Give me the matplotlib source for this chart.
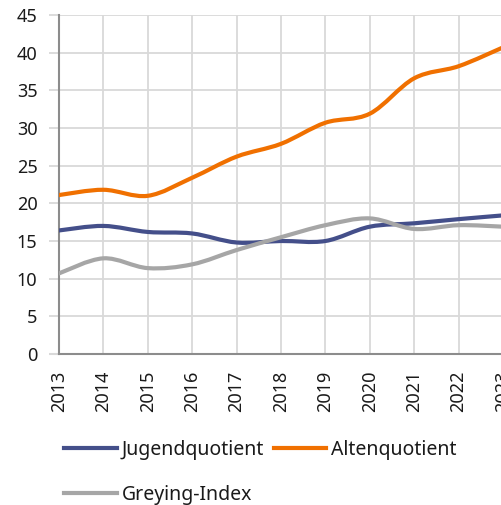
import matplotlib
matplotlib.use("Agg")
import matplotlib.pyplot as plt
from matplotlib.path import Path
from matplotlib.patches import PathPatch
from matplotlib.lines import Line2D
import numpy as np

years = [2013, 2014, 2015, 2016, 2017, 2018, 2019, 2020, 2021, 2022, 2023]
jugend = [16.4, 17.0, 16.2, 16.0, 14.8, 15.0, 15.0, 16.9, 17.35, 17.9, 18.4]
alten = [21.1, 21.8, 21.0, 23.4, 26.2, 27.9, 30.7, 31.9, 36.6, 38.2, 40.7]
greying = [10.7, 12.7, 11.4, 11.9, 13.8, 15.5, 17.1, 18.0, 16.6, 17.1, 16.9]

labels = ["Jugendquotient", "Altenquotient", "Greying-Index"]
colors = ["#444f8a", "#f07000", "#a6a6a6"]

GRID = "#d9d9d9"
SPINE = "#8c8c8c"

plt.rcParams['font.family'] = ['Noto Sans', 'DejaVu Sans']


def smooth_path(xs, ys):
	# excel-like smoothed line: cubic bezier through every point
	pts = np.column_stack([xs, ys]).astype(float)
	n = len(pts)
	verts = [pts[0]]
	codes = [Path.MOVETO]
	for i in range(n - 1):
		p0 = pts[i - 1] if i > 0 else pts[i]
		p1 = pts[i]
		p2 = pts[i + 1]
		p3 = pts[i + 2] if i + 2 < n else pts[i + 1]
		c1 = p1 + (p2 - p0) / 6.0
		c2 = p2 - (p3 - p1) / 6.0
		verts += [c1, c2, p2]
		codes += [Path.CURVE4] * 3
	return Path(verts, codes)


fig = plt.figure(figsize=(5.02, 5.05), dpi=100)
ax = fig.add_axes([59 / 502, 1 - 354 / 505, 1 - 59 / 502 + 0.002, (354 - 15) / 505])

for series, color in zip([jugend, alten, greying], colors):
	patch = PathPatch(smooth_path(years, series), fill=False, edgecolor=color,
					  lw=3, capstyle='round', joinstyle='round', zorder=3)
	ax.add_patch(patch)

ax.set_xlim(2013, 2023)
ax.set_ylim(0, 45)
ax.set_xticks(years)
ax.set_xticklabels([str(y) for y in years], rotation=90)
ax.set_yticks(range(0, 46, 5))

ax.grid(True, color=GRID, lw=1.3, zorder=0)
ax.set_axisbelow(True)
for side in ['top', 'right']:
	ax.spines[side].set_visible(False)
for side in ['left', 'bottom']:
	ax.spines[side].set_color(SPINE)
	ax.spines[side].set_linewidth(1.5)

ax.tick_params(axis='y', length=7, width=1.3, color=GRID, labelsize=13, pad=8.5, labelcolor='#1a1a1a')
ax.tick_params(axis='x', length=0, labelsize=13, pad=12, labelcolor='#1a1a1a')
ax.yaxis.get_major_ticks()[0].tick1line.set_color(SPINE)
ax.yaxis.get_major_ticks()[0].tick1line.set_markeredgewidth(1.5)

# legend fills column-wise, so reorder to get Jugend | Alten on the first row
order = [0, 2, 1]
handles = [Line2D([], [], color=colors[i], lw=3) for i in order]
fig.legend(handles, [labels[i] for i in order], ncol=2, loc='upper left',
		   bbox_to_anchor=(64 / 502, 1 - 440 / 505),
		   frameon=False, fontsize=14, handlelength=2.7, handletextpad=0.26,
		   columnspacing=0.5, labelspacing=1.27, borderaxespad=0, borderpad=0,
		   labelcolor='#1a1a1a')

fig.savefig("out.png", dpi=100)
